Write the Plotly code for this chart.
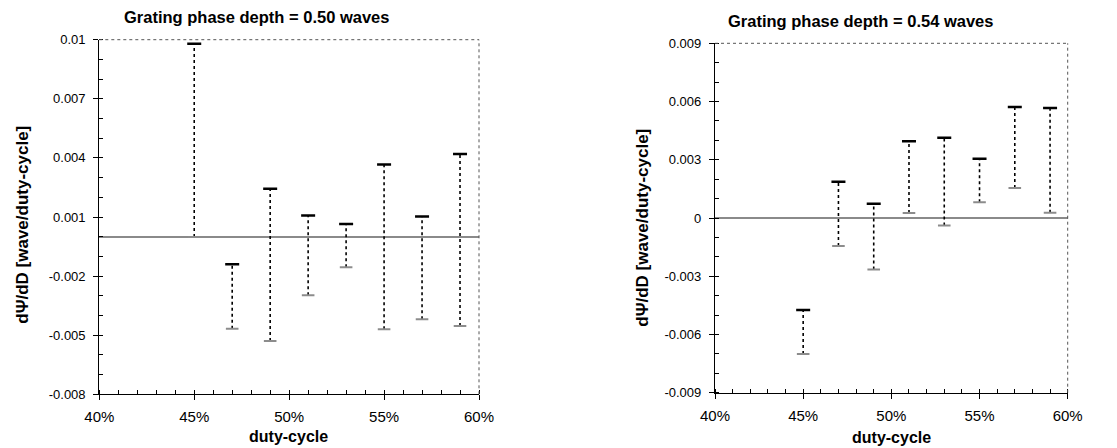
import plotly.graph_objects as go

# Duty-cycle sample positions (fraction)
duty_cycle = [0.45, 0.47, 0.49, 0.51, 0.53, 0.55, 0.57, 0.59]

# Grating phase depth = 0.50 waves: upper / lower bounds of dPsi/dD
high_050 = [0.0098, -0.0014, 0.00244, 0.00107, 0.00065, 0.00366, 0.00102, 0.0042]
low_050 = [-0.00002, -0.00467, -0.0053, -0.00297, -0.00155, -0.0047, -0.00419, -0.00453]

# Grating phase depth = 0.54 waves
high_054 = [-0.00474, 0.00187, 0.00074, 0.00395, 0.00414, 0.00305, 0.00572, 0.00567]
low_054 = [-0.00701, -0.00144, -0.00265, 0.00026, -0.00038, 0.00081, 0.00154, 0.00027]

x_tickvals = [0.40, 0.45, 0.50, 0.55, 0.60]
x_ticktext = ["40%", "45%", "50%", "55%", "60%"]

y_tickvals_050 = [-0.008, -0.005, -0.002, 0.001, 0.004, 0.007, 0.01]
y_ticktext_050 = ["-0.008", "-0.005", "-0.002", "0.001", "0.004", "0.007", "0.01"]
y_tickvals_054 = [-0.009, -0.006, -0.003, 0.0, 0.003, 0.006, 0.009]
y_ticktext_054 = ["-0.009", "-0.006", "-0.003", "0", "0.003", "0.006", "0.009"]

titles = ["Grating phase depth = 0.50 waves", "Grating phase depth = 0.54 waves"]
x_label = "duty-cycle"
y_label = "d\u03a8/dD [wave/duty-cycle]"

FONT = "Arial, 'Liberation Sans', sans-serif"

fig = go.Figure()


def add_bars(xs, highs, lows, xa, ya):
    vx, vy = [], []
    for x, h, l in zip(xs, highs, lows):
        vx += [x, x, None]
        vy += [l, h, None]
    fig.add_trace(go.Scatter(x=vx, y=vy, mode="lines", xaxis=xa, yaxis=ya,
                             line=dict(color="black", width=1.6, dash="dot"),
                             hoverinfo="skip", showlegend=False))
    fig.add_trace(go.Scatter(x=xs, y=lows, mode="markers", xaxis=xa, yaxis=ya,
                             marker=dict(symbol="line-ew", size=9,
                                         line=dict(color="#8c8c8c", width=2)),
                             showlegend=False))
    fig.add_trace(go.Scatter(x=xs, y=highs, mode="markers", xaxis=xa, yaxis=ya,
                             marker=dict(symbol="line-ew", size=10,
                                         line=dict(color="black", width=2.5)),
                             showlegend=False))


add_bars(duty_cycle, high_050, low_050, "x", "y")
add_bars(duty_cycle, high_054, low_054, "x2", "y2")

W, H = 1117, 448


def xaxis_cfg(x0, x1, anchor):
    return dict(domain=[x0 / W, x1 / W], anchor=anchor, range=[0.40, 0.60],
                tickvals=x_tickvals, ticktext=x_ticktext,
                tickfont=dict(family=FONT, size=15, color="black"),
                ticklabelstandoff=4,
                showgrid=False, zeroline=False, showline=True,
                linecolor="black", linewidth=1.2,
                ticks="outside", ticklen=5, tickcolor="black", tickwidth=1.2,
                minor=dict(tick0=0.40, dtick=0.01, ticks="inside", ticklen=4,
                           tickcolor="black", tickwidth=1, showgrid=False))


def yaxis_cfg(y_top, y_bot, rng, tv, tt, anchor):
    return dict(domain=[(H - y_bot) / H, (H - y_top) / H], anchor=anchor,
                range=rng, tickvals=tv, ticktext=tt,
                tickfont=dict(family=FONT, size=13, color="black"),
                ticklabelstandoff=5,
                showgrid=False, showline=True, linecolor="black", linewidth=1.2,
                zeroline=True, zerolinecolor="#8a8a8a", zerolinewidth=2.2,
                ticks="outside", ticklen=5, tickcolor="black", tickwidth=1.2,
                minor=dict(tick0=rng[0], dtick=0.001, ticks="inside", ticklen=4,
                           tickcolor="black", tickwidth=1, showgrid=False))


layout = dict(
    width=W, height=H,
    margin=dict(l=0, r=0, t=0, b=0, autoexpand=False),
    paper_bgcolor="white", plot_bgcolor="white",
    font=dict(family=FONT, color="black"),
    xaxis=xaxis_cfg(99.3, 479, "y"),
    yaxis=yaxis_cfg(39.7, 394.3, [-0.008, 0.01], y_tickvals_050, y_ticktext_050, "x"),
    xaxis2=xaxis_cfg(715, 1067.7, "y2"),
    yaxis2=yaxis_cfg(43.3, 392.7, [-0.009, 0.009], y_tickvals_054, y_ticktext_054, "x2"),
)
fig.update_layout(**layout)

# dotted top and right frame lines
for xr, yr in [("x domain", "y domain"), ("x2 domain", "y2 domain")]:
    fig.add_shape(type="line", xref=xr, yref=yr, x0=0, x1=1, y0=1, y1=1,
                  line=dict(color="#555", width=1, dash="dot"))
    fig.add_shape(type="line", xref=xr, yref=yr, x0=1, x1=1, y0=0, y1=1,
                  line=dict(color="#555", width=1, dash="dot"))


def pix_ann(text, x, y, size, angle=0):
    fig.add_annotation(text="<b>" + text + "</b>", xref="paper", yref="paper",
                       x=x / W, y=(H - y) / H, showarrow=False, textangle=angle,
                       xanchor="center", yanchor="middle", borderpad=0,
                       font=dict(family=FONT, size=size, color="black"))


pix_ann(titles[0], 256.7, 17, 16.5)
pix_ann(titles[1], 861, 20.7, 16.5)
pix_ann(x_label, 288.3, 436.5, 16)
pix_ann(x_label, 891.7, 437, 16)
pix_ann(y_label, 22.7, 225, 17, -90)
pix_ann(y_label, 641.7, 228, 17, -90)

fig.write_html("out.html")
